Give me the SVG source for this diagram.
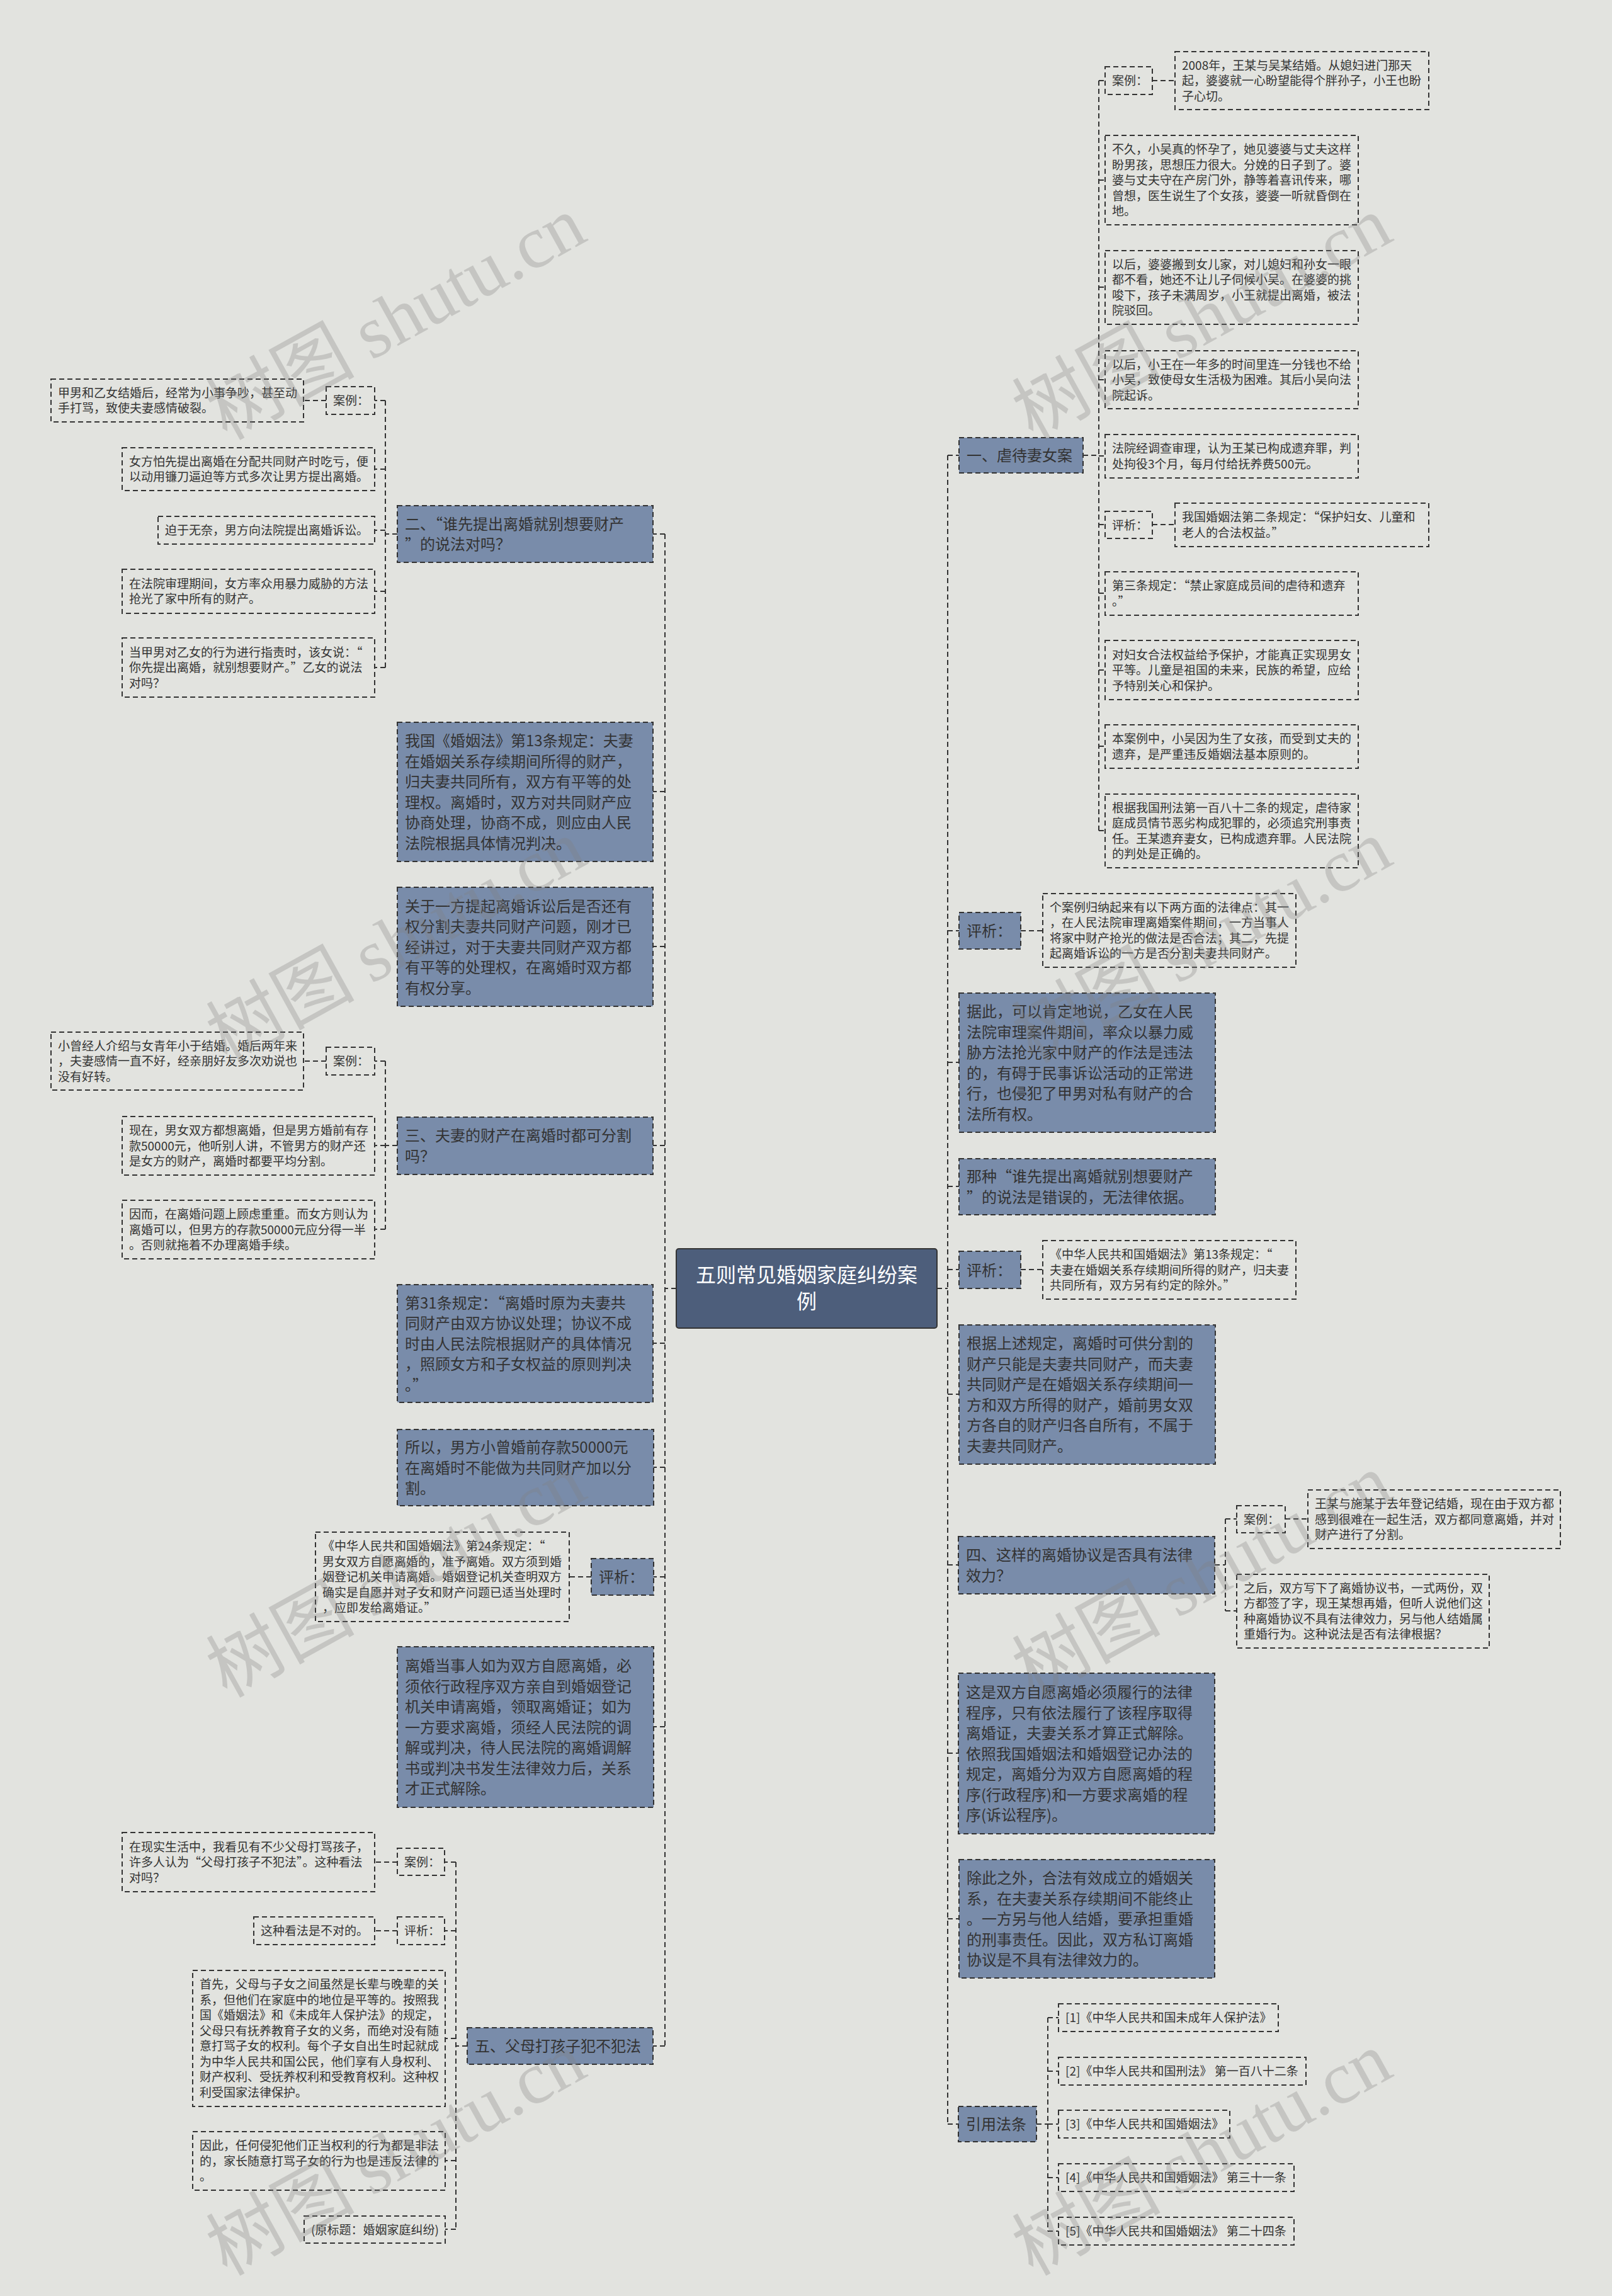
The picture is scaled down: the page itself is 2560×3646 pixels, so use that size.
<svg xmlns="http://www.w3.org/2000/svg" width="2560" height="3646" viewBox="0 0 2560 3646">
<style>
text{font-family:"Noto Sans CJK SC","Noto Sans",sans-serif;fill:#333333}
.s{fill:none;stroke:#333333;stroke-width:2;stroke-dasharray:8 5}
.f{fill:#798caa;stroke:#333333;stroke-width:2;stroke-dasharray:8 5}
.c{fill:#4d5e7b;stroke:#333333;stroke-width:2}
.t19{font-size:19px}
.t24{font-size:24px}
.t32{font-size:32px;fill:#ffffff;text-anchor:middle}
.ln{fill:none;stroke:#333333;stroke-width:2;stroke-dasharray:8 5}
.wm{font-size:118px;fill:#808080;fill-opacity:0.3;font-family:"Noto Sans CJK SC","Liberation Serif",serif}
.wm tspan.l{font-family:"Liberation Serif",serif}
</style>
<rect width="2560" height="3646" fill="#e2e3df"/>

<g id="connectors">
<path class="ln" d="M1488 2046H1505M1505 723V3373M1505 723H1523M1505 1478H1523M1505 1687H1523M1505 1884H1523M1505 2016H1523M1505 2214H1523M1505 2485H1522M1505 2784H1522M1505 3047H1523M1505 3373H1522"/>
<path class="ln" d="M1074 2046H1056M1056 848V3249M1056 848H1037M1056 1257H1037M1056 1503H1037M1056 1819H1037M1056 2133H1037M1056 2330H1038M1056 2504H1038M1056 2742H1038M1056 3249H1037"/>
<path class="ln" d="M1720 723H1745M1745 128V1319M1745 128H1755M1745 286H1755M1745 456H1755M1745 603H1755M1745 724H1755M1745 833H1755M1745 942H1755M1745 1064H1755M1745 1185H1755M1745 1319H1755M1830 128H1866M1830 833H1866"/>
<path class="ln" d="M1621 1478H1656M1621 2016H1656"/>
<path class="ln" d="M1929 2485H1946M1946 2412V2558M1946 2412H1964M1946 2558H1964M2041 2412H2077"/>
<path class="ln" d="M1646 3373H1664M1664 3204V3543M1664 3204H1681M1664 3289H1681M1664 3373H1681M1664 3458H1681M1664 3543H1681"/>
<path class="ln" d="M631 848H612M612 636V1060M612 636H595M612 745H595M612 842H595M612 939H595M612 1060H595M518 636H482"/>
<path class="ln" d="M631 1819H612M612 1685V1952M612 1685H595M612 1819H595M612 1952H595M518 1685H482"/>
<path class="ln" d="M939 2504H904"/>
<path class="ln" d="M742 3249H724M724 2957V3540M724 2957H706M724 3066H706M724 3237H707M724 3431H707M724 3540H707M631 2957H595M631 3066H595"/>
</g>

<g id="center">
<rect class="c" x="1074" y="1983" width="414" height="126" rx="4"/>
<text class="t32"><tspan x="1281" y="2036">五则常见婚姻家庭纠纷案</tspan><tspan x="1281" y="2078">例</tspan></text>
</g>

<g id="n1">
<rect class="f" x="1523" y="695" width="197" height="56"/>
<text class="t24" x="1535" y="732">一、虐待妻女案</text>
</g>
<g id="n1a">
<rect class="s" x="1755" y="106" width="75" height="44"/>
<text class="t19" x="1766" y="135">案例：</text>
</g>
<g id="n1a1">
<rect class="s" x="1866" y="82" width="403" height="92"/>
<text class="t19"><tspan x="1877" y="110.5">2008年，王某与吴某结婚。从媳妇进门那天</tspan><tspan x="1877" y="135">起，婆婆就一心盼望能得个胖孙子，小王也盼</tspan><tspan x="1877" y="159.5">子心切。</tspan></text>
</g>
<g id="n1b">
<rect class="s" x="1755" y="215" width="402" height="142"/>
<text class="t19"><tspan x="1766" y="244">不久，小吴真的怀孕了，她见婆婆与丈夫这样</tspan><tspan x="1766" y="268.5">盼男孩，思想压力很大。分娩的日子到了。婆</tspan><tspan x="1766" y="293">婆与丈夫守在产房门外，静等着喜讯传来，哪</tspan><tspan x="1766" y="317.5">曾想，医生说生了个女孩，婆婆一听就昏倒在</tspan><tspan x="1766" y="342">地。</tspan></text>
</g>
<g id="n1c">
<rect class="s" x="1755" y="398" width="402" height="117"/>
<text class="t19"><tspan x="1766" y="427">以后，婆婆搬到女儿家，对儿媳妇和孙女一眼</tspan><tspan x="1766" y="451">都不看，她还不让儿子伺候小吴。在婆婆的挑</tspan><tspan x="1766" y="476">唆下，孩子未满周岁，小王就提出离婚，被法</tspan><tspan x="1766" y="500">院驳回。</tspan></text>
</g>
<g id="n1d">
<rect class="s" x="1755" y="557" width="402" height="92"/>
<text class="t19"><tspan x="1766" y="585.5">以后，小王在一年多的时间里连一分钱也不给</tspan><tspan x="1766" y="610">小吴，致使母女生活极为困难。其后小吴向法</tspan><tspan x="1766" y="634.5">院起诉。</tspan></text>
</g>
<g id="n1e">
<rect class="s" x="1755" y="690" width="402" height="69"/>
<text class="t19"><tspan x="1766" y="719">法院经调查审理，认为王某已构成遗弃罪，判</tspan><tspan x="1766" y="744">处拘役3个月，每月付给抚养费500元。</tspan></text>
</g>
<g id="n1f">
<rect class="s" x="1755" y="812" width="75" height="43"/>
<text class="t19" x="1766" y="840.5">评析：</text>
</g>
<g id="n1f1">
<rect class="s" x="1866" y="799" width="403" height="69"/>
<text class="t19"><tspan x="1877" y="828">我国婚姻法第二条规定：“保护妇女、儿童和</tspan><tspan x="1877" y="853">老人的合法权益。”</tspan></text>
</g>
<g id="n1g">
<rect class="s" x="1755" y="908" width="402" height="69"/>
<text class="t19"><tspan x="1766" y="937">第三条规定：“禁止家庭成员间的虐待和遗弃</tspan><tspan x="1766" y="962">。”</tspan></text>
</g>
<g id="n1h">
<rect class="s" x="1755" y="1017" width="402" height="94"/>
<text class="t19"><tspan x="1766" y="1046.5">对妇女合法权益给予保护，才能真正实现男女</tspan><tspan x="1766" y="1071">平等。儿童是祖国的未来，民族的希望，应给</tspan><tspan x="1766" y="1095.5">予特别关心和保护。</tspan></text>
</g>
<g id="n1i">
<rect class="s" x="1755" y="1151" width="402" height="69"/>
<text class="t19"><tspan x="1766" y="1180">本案例中，小吴因为生了女孩，而受到丈夫的</tspan><tspan x="1766" y="1205">遗弃，是严重违反婚姻法基本原则的。</tspan></text>
</g>
<g id="n1j">
<rect class="s" x="1755" y="1261" width="402" height="117"/>
<text class="t19"><tspan x="1766" y="1290">根据我国刑法第一百八十二条的规定，虐待家</tspan><tspan x="1766" y="1314">庭成员情节恶劣构成犯罪的，必须追究刑事责</tspan><tspan x="1766" y="1339">任。王某遗弃妻女，已构成遗弃罪。人民法院</tspan><tspan x="1766" y="1363">的判处是正确的。</tspan></text>
</g>

<g id="n2">
<rect class="f" x="1523" y="1449" width="98" height="58"/>
<text class="t24" x="1535" y="1487">评析：</text>
</g>
<g id="n2a">
<rect class="s" x="1656" y="1419" width="402" height="117"/>
<text class="t19"><tspan x="1667" y="1448">个案例归纳起来有以下两方面的法律点：其一</tspan><tspan x="1667" y="1472">，在人民法院审理离婚案件期间，一方当事人</tspan><tspan x="1667" y="1497">将家中财产抢光的做法是否合法；其二，先提</tspan><tspan x="1667" y="1521">起离婚诉讼的一方是否分割夫妻共同财产。</tspan></text>
</g>
<g id="n3">
<rect class="f" x="1523" y="1577" width="407" height="221"/>
<text class="t24"><tspan x="1535" y="1615">据此，可以肯定地说，乙女在人民</tspan><tspan x="1535" y="1648">法院审理案件期间，率众以暴力威</tspan><tspan x="1535" y="1680">胁方法抢光家中财产的作法是违法</tspan><tspan x="1535" y="1713">的，有碍于民事诉讼活动的正常进</tspan><tspan x="1535" y="1745">行，也侵犯了甲男对私有财产的合</tspan><tspan x="1535" y="1778">法所有权。</tspan></text>
</g>
<g id="n4">
<rect class="f" x="1523" y="1840" width="407" height="89"/>
<text class="t24"><tspan x="1535" y="1877">那种“谁先提出离婚就别想要财产</tspan><tspan x="1535" y="1910">”的说法是错误的，无法律依据。</tspan></text>
</g>
<g id="n5">
<rect class="f" x="1523" y="1987" width="98" height="59"/>
<text class="t24" x="1535" y="2025.5">评析：</text>
</g>
<g id="n5a">
<rect class="s" x="1656" y="1970" width="402" height="93"/>
<text class="t19"><tspan x="1667" y="1999">《中华人民共和国婚姻法》第13条规定：“</tspan><tspan x="1667" y="2023.5">夫妻在婚姻关系存续期间所得的财产，归夫妻</tspan><tspan x="1667" y="2048">共同所有，双方另有约定的除外。”</tspan></text>
</g>
<g id="n6">
<rect class="f" x="1523" y="2104" width="407" height="221"/>
<text class="t24"><tspan x="1535" y="2142">根据上述规定，离婚时可供分割的</tspan><tspan x="1535" y="2175">财产只能是夫妻共同财产，而夫妻</tspan><tspan x="1535" y="2207">共同财产是在婚姻关系存续期间一</tspan><tspan x="1535" y="2240">方和双方所得的财产，婚前男女双</tspan><tspan x="1535" y="2272">方各自的财产归各自所有，不属于</tspan><tspan x="1535" y="2305">夫妻共同财产。</tspan></text>
</g>
<g id="n7">
<rect class="f" x="1522" y="2440" width="407" height="91"/>
<text class="t24"><tspan x="1534" y="2478">四、这样的离婚协议是否具有法律</tspan><tspan x="1534" y="2511">效力？</tspan></text>
</g>
<g id="n7a">
<rect class="s" x="1964" y="2391" width="77" height="43"/>
<text class="t19" x="1975" y="2419.5">案例：</text>
</g>
<g id="n7a1">
<rect class="s" x="2077" y="2366" width="401" height="93"/>
<text class="t19"><tspan x="2088" y="2395">王某与施某于去年登记结婚，现在由于双方都</tspan><tspan x="2088" y="2419.5">感到很难在一起生活，双方都同意离婚，并对</tspan><tspan x="2088" y="2444">财产进行了分割。</tspan></text>
</g>
<g id="n7b">
<rect class="s" x="1964" y="2500" width="401" height="117"/>
<text class="t19"><tspan x="1975" y="2529">之后，双方写下了离婚协议书，一式两份，双</tspan><tspan x="1975" y="2553">方都签了字，现王某想再婚，但听人说他们这</tspan><tspan x="1975" y="2578">种离婚协议不具有法律效力，另与他人结婚属</tspan><tspan x="1975" y="2602">重婚行为。这种说法是否有法律根据？</tspan></text>
</g>
<g id="n8">
<rect class="f" x="1522" y="2657" width="407" height="255"/>
<text class="t24"><tspan x="1534" y="2696">这是双方自愿离婚必须履行的法律</tspan><tspan x="1534" y="2728.5">程序，只有依法履行了该程序取得</tspan><tspan x="1534" y="2761">离婚证，夫妻关系才算正式解除。</tspan><tspan x="1534" y="2793.5">依照我国婚姻法和婚姻登记办法的</tspan><tspan x="1534" y="2826">规定，离婚分为双方自愿离婚的程</tspan><tspan x="1534" y="2858.5">序(行政程序)和一方要求离婚的程</tspan><tspan x="1534" y="2891">序(诉讼程序)。</tspan></text>
</g>
<g id="n9">
<rect class="f" x="1523" y="2953" width="406" height="188"/>
<text class="t24"><tspan x="1535" y="2991">除此之外，合法有效成立的婚姻关</tspan><tspan x="1535" y="3023.5">系，在夫妻关系存续期间不能终止</tspan><tspan x="1535" y="3056">。一方另与他人结婚，要承担重婚</tspan><tspan x="1535" y="3088.5">的刑事责任。因此，双方私订离婚</tspan><tspan x="1535" y="3121">协议是不具有法律效力的。</tspan></text>
</g>
<g id="n10">
<rect class="f" x="1522" y="3345" width="124" height="56"/>
<text class="t24" x="1534" y="3382">引用法条</text>
</g>
<g id="r1">
<rect class="s" x="1681" y="3182" width="349" height="44"/>
<text class="t19" x="1692" y="3211">[1]《中华人民共和国未成年人保护法》</text>
</g>
<g id="r2">
<rect class="s" x="1681" y="3267" width="393" height="44"/>
<text class="t19" x="1692" y="3296">[2]《中华人民共和国刑法》 第一百八十二条</text>
</g>
<g id="r3">
<rect class="s" x="1681" y="3351" width="272" height="44"/>
<text class="t19" x="1692" y="3380">[3]《中华人民共和国婚姻法》</text>
</g>
<g id="r4">
<rect class="s" x="1681" y="3436" width="374" height="44"/>
<text class="t19" x="1692" y="3465">[4]《中华人民共和国婚姻法》 第三十一条</text>
</g>
<g id="r5">
<rect class="s" x="1681" y="3521" width="374" height="44"/>
<text class="t19" x="1692" y="3550">[5]《中华人民共和国婚姻法》 第二十四条</text>
</g>

<g id="m1">
<rect class="f" x="631" y="803" width="406" height="90"/>
<text class="t24"><tspan x="643" y="841">二、“谁先提出离婚就别想要财产</tspan><tspan x="643" y="873">”的说法对吗？</tspan></text>
</g>
<g id="m1a">
<rect class="s" x="518" y="614" width="77" height="44"/>
<text class="t19" x="529" y="643">案例：</text>
</g>
<g id="m1a1">
<rect class="s" x="81" y="602" width="401" height="68"/>
<text class="t19"><tspan x="92" y="631">甲男和乙女结婚后，经常为小事争吵，甚至动</tspan><tspan x="92" y="655">手打骂，致使夫妻感情破裂。</tspan></text>
</g>
<g id="m1b">
<rect class="s" x="194" y="711" width="401" height="68"/>
<text class="t19"><tspan x="205" y="740">女方怕先提出离婚在分配共同财产时吃亏，便</tspan><tspan x="205" y="764">以动用镰刀逼迫等方式多次让男方提出离婚。</tspan></text>
</g>
<g id="m1c">
<rect class="s" x="251" y="820" width="344" height="44"/>
<text class="t19" x="262" y="849">迫于无奈，男方向法院提出离婚诉讼。</text>
</g>
<g id="m1d">
<rect class="s" x="194" y="904" width="401" height="70"/>
<text class="t19"><tspan x="205" y="934">在法院审理期间，女方率众用暴力威胁的方法</tspan><tspan x="205" y="958">抢光了家中所有的财产。</tspan></text>
</g>
<g id="m1e">
<rect class="s" x="194" y="1013" width="401" height="94"/>
<text class="t19"><tspan x="205" y="1042.5">当甲男对乙女的行为进行指责时，该女说：“</tspan><tspan x="205" y="1067">你先提出离婚，就别想要财产。”乙女的说法</tspan><tspan x="205" y="1091.5">对吗？</tspan></text>
</g>
<g id="m2">
<rect class="f" x="631" y="1147" width="406" height="221"/>
<text class="t24"><tspan x="643" y="1185">我国《婚姻法》第13条规定：夫妻</tspan><tspan x="643" y="1218">在婚姻关系存续期间所得的财产，</tspan><tspan x="643" y="1250">归夫妻共同所有，双方有平等的处</tspan><tspan x="643" y="1283">理权。离婚时，双方对共同财产应</tspan><tspan x="643" y="1315">协商处理，协商不成，则应由人民</tspan><tspan x="643" y="1348">法院根据具体情况判决。</tspan></text>
</g>
<g id="m3">
<rect class="f" x="631" y="1409" width="406" height="189"/>
<text class="t24"><tspan x="643" y="1447.5">关于一方提起离婚诉讼后是否还有</tspan><tspan x="643" y="1480">权分割夫妻共同财产问题，刚才已</tspan><tspan x="643" y="1512.5">经讲过，对于夫妻共同财产双方都</tspan><tspan x="643" y="1545">有平等的处理权，在离婚时双方都</tspan><tspan x="643" y="1577.5">有权分享。</tspan></text>
</g>
<g id="m4">
<rect class="f" x="631" y="1774" width="406" height="91"/>
<text class="t24"><tspan x="643" y="1812">三、夫妻的财产在离婚时都可分割</tspan><tspan x="643" y="1845">吗？</tspan></text>
</g>
<g id="m4a">
<rect class="s" x="518" y="1663" width="77" height="44"/>
<text class="t19" x="529" y="1692">案例：</text>
</g>
<g id="m4a1">
<rect class="s" x="81" y="1639" width="401" height="92"/>
<text class="t19"><tspan x="92" y="1667.5">小曾经人介绍与女青年小于结婚。婚后两年来</tspan><tspan x="92" y="1692">，夫妻感情一直不好，经亲朋好友多次劝说也</tspan><tspan x="92" y="1716.5">没有好转。</tspan></text>
</g>
<g id="m4b">
<rect class="s" x="194" y="1773" width="401" height="93"/>
<text class="t19"><tspan x="205" y="1802">现在，男女双方都想离婚，但是男方婚前有存</tspan><tspan x="205" y="1826.5">款50000元，他听别人讲，不管男方的财产还</tspan><tspan x="205" y="1851">是女方的财产，离婚时都要平均分割。</tspan></text>
</g>
<g id="m4c">
<rect class="s" x="194" y="1906" width="401" height="93"/>
<text class="t19"><tspan x="205" y="1935">因而，在离婚问题上顾虑重重。而女方则认为</tspan><tspan x="205" y="1959.5">离婚可以，但男方的存款50000元应分得一半</tspan><tspan x="205" y="1984">。否则就拖着不办理离婚手续。</tspan></text>
</g>
<g id="m5">
<rect class="f" x="631" y="2040" width="406" height="187"/>
<text class="t24"><tspan x="643" y="2077.5">第31条规定：“离婚时原为夫妻共</tspan><tspan x="643" y="2110">同财产由双方协议处理；协议不成</tspan><tspan x="643" y="2142.5">时由人民法院根据财产的具体情况</tspan><tspan x="643" y="2175">，照顾女方和子女权益的原则判决</tspan><tspan x="643" y="2207.5">。”</tspan></text>
</g>
<g id="m6">
<rect class="f" x="631" y="2270" width="407" height="121"/>
<text class="t24"><tspan x="643" y="2307">所以，男方小曾婚前存款50000元</tspan><tspan x="643" y="2339.5">在离婚时不能做为共同财产加以分</tspan><tspan x="643" y="2372">割。</tspan></text>
</g>
<g id="m7">
<rect class="f" x="939" y="2475" width="99" height="58"/>
<text class="t24" x="951" y="2513">评析：</text>
</g>
<g id="m7a">
<rect class="s" x="501" y="2433" width="403" height="142"/>
<text class="t19"><tspan x="512" y="2462">《中华人民共和国婚姻法》第24条规定：“</tspan><tspan x="512" y="2486.5">男女双方自愿离婚的，准予离婚。双方须到婚</tspan><tspan x="512" y="2511">姻登记机关申请离婚。婚姻登记机关查明双方</tspan><tspan x="512" y="2535.5">确实是自愿并对子女和财产问题已适当处理时</tspan><tspan x="512" y="2560">，应即发给离婚证。”</tspan></text>
</g>
<g id="m8">
<rect class="f" x="631" y="2615" width="407" height="255"/>
<text class="t24"><tspan x="643" y="2654">离婚当事人如为双方自愿离婚，必</tspan><tspan x="643" y="2686.5">须依行政程序双方亲自到婚姻登记</tspan><tspan x="643" y="2719">机关申请离婚，领取离婚证；如为</tspan><tspan x="643" y="2751.5">一方要求离婚，须经人民法院的调</tspan><tspan x="643" y="2784">解或判决，待人民法院的离婚调解</tspan><tspan x="643" y="2816.5">书或判决书发生法律效力后，关系</tspan><tspan x="643" y="2849">才正式解除。</tspan></text>
</g>
<g id="m9">
<rect class="f" x="742" y="3220" width="295" height="58"/>
<text class="t24" x="754" y="3258">五、父母打孩子犯不犯法</text>
</g>
<g id="m9a">
<rect class="s" x="631" y="2935" width="75" height="43"/>
<text class="t19" x="642" y="2963.5">案例：</text>
</g>
<g id="m9a1">
<rect class="s" x="194" y="2910" width="401" height="94"/>
<text class="t19"><tspan x="205" y="2939.5">在现实生活中，我看见有不少父母打骂孩子，</tspan><tspan x="205" y="2964">许多人认为“父母打孩子不犯法”。这种看法</tspan><tspan x="205" y="2988.5">对吗？</tspan></text>
</g>
<g id="m9b">
<rect class="s" x="631" y="3044" width="75" height="44"/>
<text class="t19" x="642" y="3073">评析：</text>
</g>
<g id="m9b1">
<rect class="s" x="403" y="3044" width="192" height="44"/>
<text class="t19" x="414" y="3073">这种看法是不对的。</text>
</g>
<g id="m9c">
<rect class="s" x="306" y="3129" width="401" height="216"/>
<text class="t19"><tspan x="317" y="3158">首先，父母与子女之间虽然是长辈与晚辈的关</tspan><tspan x="317" y="3183">系，但他们在家庭中的地位是平等的。按照我</tspan><tspan x="317" y="3207">国《婚姻法》和《未成年人保护法》的规定，</tspan><tspan x="317" y="3232">父母只有抚养教育子女的义务，而绝对没有随</tspan><tspan x="317" y="3256">意打骂子女的权利。每个子女自出生时起就成</tspan><tspan x="317" y="3281">为中华人民共和国公民，他们享有人身权利、</tspan><tspan x="317" y="3305">财产权利、受抚养权利和受教育权利。这种权</tspan><tspan x="317" y="3330">利受国家法律保护。</tspan></text>
</g>
<g id="m9d">
<rect class="s" x="306" y="3385" width="401" height="93"/>
<text class="t19"><tspan x="317" y="3414">因此，任何侵犯他们正当权利的行为都是非法</tspan><tspan x="317" y="3438.5">的，家长随意打骂子女的行为也是违反法律的</tspan><tspan x="317" y="3463">。</tspan></text>
</g>
<g id="m9e">
<rect class="s" x="483" y="3519" width="224" height="43"/>
<text class="t19" x="494" y="3547.5">(原标题：婚姻家庭纠纷)</text>
</g>

<g id="watermark">
<text class="wm" transform="translate(360 700) rotate(-29)">树图 <tspan class="l">shutu.cn</tspan></text>
<text class="wm" transform="translate(1640 700) rotate(-29)">树图 <tspan class="l">shutu.cn</tspan></text>
<text class="wm" transform="translate(360 1690) rotate(-29)">树图 <tspan class="l">shutu.cn</tspan></text>
<text class="wm" transform="translate(1640 1690) rotate(-29)">树图 <tspan class="l">shutu.cn</tspan></text>
<text class="wm" transform="translate(360 2697) rotate(-29)">树图 <tspan class="l">shutu.cn</tspan></text>
<text class="wm" transform="translate(1640 2697) rotate(-29)">树图 <tspan class="l">shutu.cn</tspan></text>
<text class="wm" transform="translate(360 3615) rotate(-29)">树图 <tspan class="l">shutu.cn</tspan></text>
<text class="wm" transform="translate(1640 3615) rotate(-29)">树图 <tspan class="l">shutu.cn</tspan></text>
</g>
</svg>
